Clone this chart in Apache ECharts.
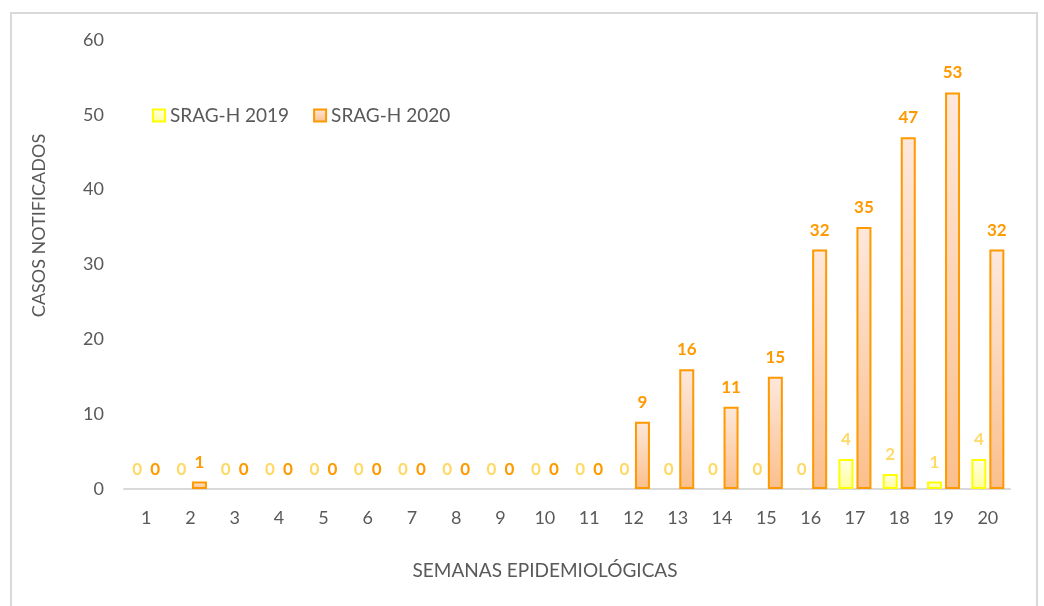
<!DOCTYPE html>
<html>
<head>
<meta charset="utf-8">
<script src="https://cdn.jsdelivr.net/npm/echarts@6/dist/echarts.min.js"></script>
<style>
  html, body { margin: 0; padding: 0; background: #fff; }
  #grafico { width: 1044px; height: 606px; }
</style>
</head>
<body>
<div id="grafico"></div>
<script>
  // semanas epidemiologicas
  var semanas = ['1','2','3','4','5','6','7','8','9','10','11','12','13','14','15','16','17','18','19','20'];
  var srag2019 = [0,0,0,0,0,0,0,0,0,0,0,0,0,0,0,0,4,2,1,4];
  var srag2020 = [0,1,0,0,0,0,0,0,0,0,0,9,16,11,15,32,35,47,53,32];

  var fonte = 'Lato';
  var chart = echarts.init(document.getElementById('grafico'));

  // barras com valor 0 ficam sem borda (como no Excel)
  function semBordaNoZero(arr) {
    return arr.map(function (v) {
      return v === 0 ? { value: v, itemStyle: { borderWidth: 0 } } : v;
    });
  }

  chart.setOption({
    animation: false,
    textStyle: { fontFamily: fonte },
    graphic: [{
      type: 'rect',
      shape: { x: 11, y: 13, width: 1026, height: 600 },
      style: { fill: 'none', stroke: '#d9d9d9', lineWidth: 2 },
      silent: true
    }],
    legend: {
      left: 147,
      top: 101,
      icon: 'rect',
      itemWidth: 12,
      itemHeight: 12,
      itemGap: 24,
      textStyle: { color: '#595959', fontSize: 19, fontFamily: fonte },
      data: ['SRAG-H 2019', 'SRAG-H 2020']
    },
    grid: {
      left: 124,
      right: 34,
      top: 40,
      bottom: 117
    },
    xAxis: {
      type: 'category',
      data: semanas,
      name: 'SEMANAS EPIDEMIOLÓGICAS',
      nameLocation: 'middle',
      nameGap: 72,
      nameTextStyle: { color: '#595959', fontSize: 19, padding: [0, 44, 0, 0] },
      axisLine: { lineStyle: { color: '#d9d9d9', width: 2 } },
      axisTick: { show: false },
      axisLabel: { color: '#595959', fontSize: 18, margin: 20 }
    },
    yAxis: {
      type: 'value',
      min: 0,
      max: 60,
      interval: 10,
      name: 'CASOS NOTIFICADOS',
      nameLocation: 'middle',
      nameGap: 76,
      nameTextStyle: { color: '#595959', fontSize: 18, padding: [0, 0, 0, 78] },
      splitLine: { show: false },
      axisLine: { show: false },
      axisTick: { show: false },
      axisLabel: { color: '#595959', fontSize: 18, margin: 20 }
    },
    series: [{
      name: 'SRAG-H 2019',
      type: 'bar',
      data: semBordaNoZero(srag2019),
      barWidth: 15,
      barGap: '20%',
      itemStyle: {
        color: new echarts.graphic.LinearGradient(0, 0, 0, 1, [
          { offset: 0, color: '#ffffe6' },
          { offset: 1, color: '#ffff99' }
        ]),
        borderColor: '#ffff00',
        borderWidth: 2
      },
      label: {
        show: true,
        position: 'top',
        distance: 11,
        color: '#ffd966',
        fontSize: 17,
        fontWeight: 'bold'
      }
    }, {
      name: 'SRAG-H 2020',
      type: 'bar',
      data: semBordaNoZero(srag2020),
      barWidth: 15,
      itemStyle: {
        color: new echarts.graphic.LinearGradient(0, 0, 0, 1, [
          { offset: 0, color: '#fde8dc' },
          { offset: 1, color: '#fbbf8c' }
        ]),
        borderColor: '#ff9900',
        borderWidth: 2
      },
      label: {
        show: true,
        position: 'top',
        distance: 11,
        color: '#ff9900',
        fontSize: 17,
        fontWeight: 'bold'
      }
    }]
  });
</script>
</body>
</html>
